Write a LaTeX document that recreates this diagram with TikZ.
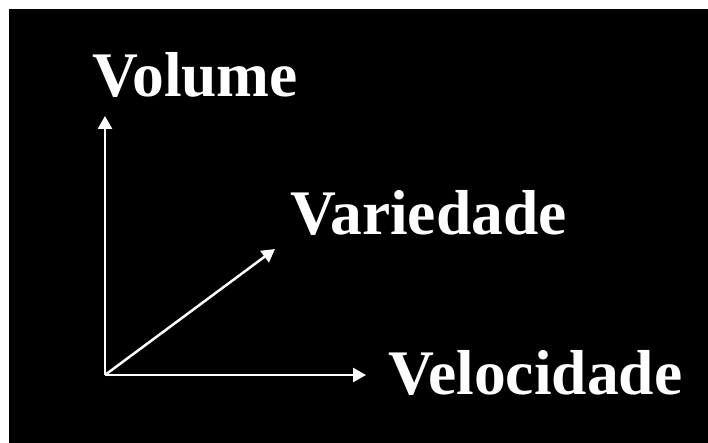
\documentclass[tikz,border=0pt]{standalone}
\usepackage{fontspec}
\setmainfont{Liberation Serif}
\usetikzlibrary{arrows.meta}
\begin{document}
\begin{tikzpicture}[x=1pt,y=1pt,
  axis/.style={white,line width=2.5pt,-{Triangle[length=13pt,width=14pt]}},
  lbl/.style={white,anchor=base west,inner sep=0pt,font=\fontsize{63.5}{63.5}\selectfont\bfseries}]
\useasboundingbox (0,0) rectangle (708,443);
\fill[white] (0,0) rectangle (708,443);
\fill[black] (9,0) rectangle (708,434);
\coordinate (O) at (105,68);
\coordinate (up) at (105,327);
\coordinate (right) at (366,68);
\coordinate (diag) at (275,194);
\draw[axis] (O) -- (up);
\draw[axis] (O) -- (right);
\draw[axis] (O) -- (diag);
\node[lbl] (vol) at (92,346) {Volume};
\node[lbl] (var) at (290,208) {Variedade};
\node[lbl] (vel) at (388,48) {Velocidade};
\end{tikzpicture}
\end{document}
